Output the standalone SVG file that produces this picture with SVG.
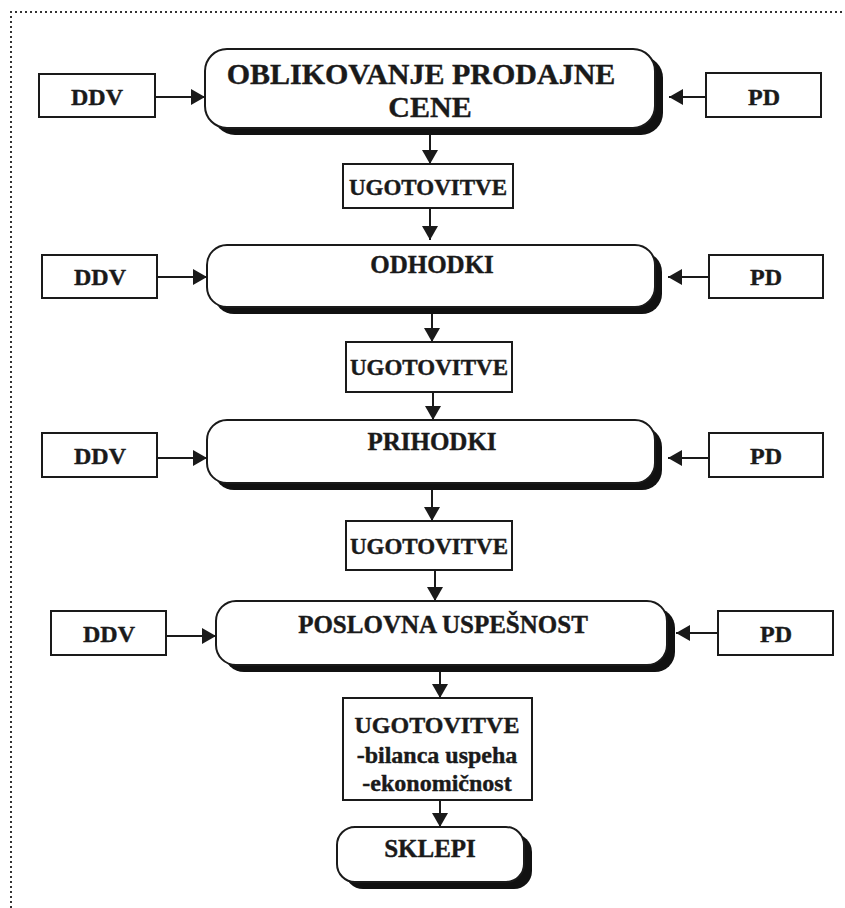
<svg xmlns="http://www.w3.org/2000/svg" width="845" height="908" viewBox="0 0 845 908">
<style>
.frame{fill:none;stroke:#333;stroke-width:2;stroke-dasharray:2 3}
.box{fill:#fff;stroke:#1a1a1a;stroke-width:2}
.shadow{fill:#111}
.t{font-family:"Liberation Serif","Times New Roman",serif;font-weight:bold;fill:#1a1a1a;stroke:#1a1a1a;stroke-width:0.4;text-anchor:middle}
.c{stroke:#1a1a1a;stroke-width:2;fill:none;marker-end:url(#ah)}
</style>
<defs>
<marker id="ah" markerUnits="userSpaceOnUse" markerWidth="15" markerHeight="16" refX="14" refY="8" orient="auto">
<path d="M0,0 L14,8 L0,16 Z" fill="#1a1a1a"/>
</marker>
</defs>
<rect width="845" height="908" fill="#fff"/>
<path class="frame" d="M11,908 V12 H845"/>

<g id="ddv1"><rect class="box" x="39" y="74" width="116" height="43"/><text class="t" x="97" y="105" font-size="24">DDV</text></g>
<g id="main1"><rect class="shadow" x="213" y="56" width="450" height="79" rx="22"/><rect class="box" x="205" y="49" width="450" height="79" rx="22"/><text class="t" x="421" y="84" font-size="30">OBLIKOVANJE PRODAJNE</text><text class="t" x="430" y="117" font-size="30">CENE</text></g>
<g id="pd1"><rect class="box" x="706" y="73" width="115" height="44"/><text class="t" x="764" y="105" font-size="24">PD</text></g>
<g id="ug1"><rect class="box" x="343" y="164" width="170" height="44"/><text class="t" x="428" y="195" font-size="23">UGOTOVITVE</text></g>

<g id="ddv2"><rect class="box" x="42" y="255" width="115" height="43"/><text class="t" x="100" y="285" font-size="24">DDV</text></g>
<g id="main2"><rect class="shadow" x="214" y="252" width="448" height="62" rx="20"/><rect class="box" x="207" y="245" width="448" height="62" rx="20"/><text class="t" x="432" y="273" font-size="25">ODHODKI</text></g>
<g id="pd2"><rect class="box" x="709" y="255" width="114" height="43"/><text class="t" x="766" y="285" font-size="24">PD</text></g>
<g id="ug2"><rect class="box" x="346" y="342" width="166" height="50"/><text class="t" x="429" y="375" font-size="23">UGOTOVITVE</text></g>

<g id="ddv3"><rect class="box" x="42" y="433" width="115" height="44"/><text class="t" x="100" y="464" font-size="24">DDV</text></g>
<g id="main3"><rect class="shadow" x="214" y="427" width="448" height="63" rx="20"/><rect class="box" x="207" y="420" width="448" height="63" rx="20"/><text class="t" x="432" y="450" font-size="25">PRIHODKI</text></g>
<g id="pd3"><rect class="box" x="709" y="433" width="114" height="44"/><text class="t" x="766" y="464" font-size="24">PD</text></g>
<g id="ug3"><rect class="box" x="346" y="521" width="166" height="49"/><text class="t" x="429" y="554" font-size="23">UGOTOVITVE</text></g>

<g id="ddv4"><rect class="box" x="51" y="611" width="115" height="44"/><text class="t" x="109" y="642" font-size="24">DDV</text></g>
<g id="main4"><rect class="shadow" x="224" y="608" width="451" height="64" rx="20"/><rect class="box" x="216" y="601" width="451" height="64" rx="20"/><text class="t" x="443" y="633" font-size="25">POSLOVNA USPEŠNOST</text></g>
<g id="pd4"><rect class="box" x="718" y="611" width="115" height="44"/><text class="t" x="776" y="642" font-size="24">PD</text></g>
<g id="ug4"><rect class="box" x="343" y="698" width="189" height="102"/><text class="t" x="437" y="733" font-size="24">UGOTOVITVE</text><text class="t" x="437" y="763" font-size="24">-bilanca uspeha</text><text class="t" x="437" y="791" font-size="24">-ekonomičnost</text></g>
<g id="sklepi"><rect class="shadow" x="345" y="834" width="187" height="55" rx="18"/><rect class="box" x="337" y="827" width="187" height="55" rx="18"/><text class="t" x="430" y="857" font-size="25">SKLEPI</text></g>

<g id="connectors">
<line class="c" x1="155" y1="97" x2="205" y2="97"/>
<line class="c" x1="706" y1="97" x2="669" y2="97"/>
<line class="c" x1="430" y1="135" x2="430" y2="164"/>
<line class="c" x1="430" y1="208" x2="430" y2="240"/>
<line class="c" x1="157" y1="277" x2="207" y2="277"/>
<line class="c" x1="709" y1="277" x2="668" y2="277"/>
<line class="c" x1="432" y1="314" x2="432" y2="342"/>
<line class="c" x1="433" y1="392" x2="433" y2="420"/>
<line class="c" x1="157" y1="458" x2="207" y2="458"/>
<line class="c" x1="709" y1="458" x2="668" y2="458"/>
<line class="c" x1="432" y1="490" x2="432" y2="521"/>
<line class="c" x1="435" y1="570" x2="435" y2="601"/>
<line class="c" x1="166" y1="636" x2="216" y2="636"/>
<line class="c" x1="718" y1="633" x2="676" y2="633"/>
<line class="c" x1="440" y1="672" x2="440" y2="698"/>
<line class="c" x1="440" y1="800" x2="440" y2="827"/>
</g>
</svg>
